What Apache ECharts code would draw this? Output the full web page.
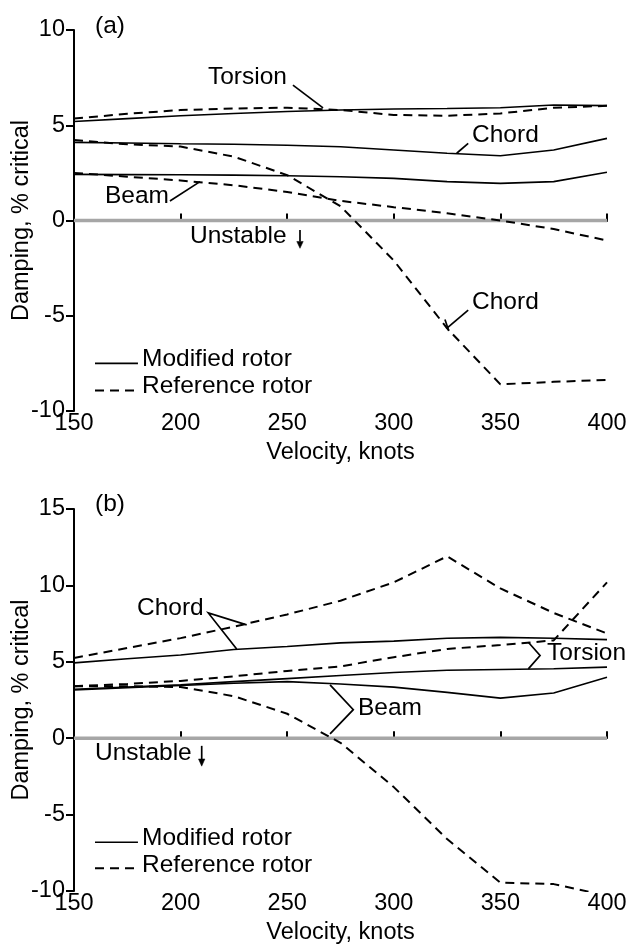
<!DOCTYPE html>
<html>
<head>
<meta charset="utf-8">
<script src="https://cdn.jsdelivr.net/npm/echarts@6/dist/echarts.min.js"></script>
<style>
html,body{margin:0;padding:0;background:#fff;}
#chart{width:630px;height:945px;}
</style>
</head>
<body>
<div id="chart"></div>
<script>
// ---- data ----
const knots = [150, 175, 200, 225, 250, 275, 300, 325, 350, 375, 400];
const xTicks = [150, 200, 250, 300, 350, 400];

// (a)
const aTorsionMod = [5.2, 5.35, 5.5, 5.62, 5.72, 5.8, 5.85, 5.88, 5.92, 6.06, 6.03];
const aTorsionRef = [5.35, 5.6, 5.8, 5.88, 5.92, 5.8, 5.54, 5.5, 5.62, 5.92, 6.02];
const aChordMod = [4.1, 4.07, 4.03, 4.0, 3.95, 3.87, 3.7, 3.53, 3.4, 3.7, 4.31];
const aChordRef = [4.22, 4.0, 3.88, 3.35, 2.38, 0.75, -2.1, -5.66, -8.6, -8.47, -8.37];
const aBeamMod = [2.42, 2.41, 2.4, 2.38, 2.35, 2.3, 2.21, 2.04, 1.95, 2.04, 2.53];
const aBeamRef = [2.5, 2.3, 2.1, 1.85, 1.5, 1.03, 0.7, 0.38, 0.0, -0.45, -1.05];

// (b)
const bChordMod = [4.93, 5.2, 5.45, 5.8, 6.0, 6.24, 6.35, 6.54, 6.6, 6.54, 6.45];
const bChordRef = [5.25, 5.9, 6.55, 7.3, 8.1, 9.0, 10.2, 11.9, 9.8, 8.2, 6.85];
const bTorsionMod = [3.2, 3.35, 3.5, 3.7, 3.9, 4.1, 4.3, 4.45, 4.5, 4.55, 4.65];
const bTorsionRef = [3.4, 3.55, 3.75, 4.05, 4.4, 4.7, 5.3, 5.84, 6.1, 6.4, 10.2];
const bBeamMod = [3.15, 3.3, 3.45, 3.6, 3.7, 3.55, 3.34, 3.0, 2.62, 2.96, 3.99];
const bBeamRef = [3.4, 3.4, 3.35, 2.75, 1.6, -0.3, -3.2, -6.6, -9.45, -9.55, -10.3];

const zeroLevel = 0;
const yRangeA = [-10, 10];
const yRangeB = [-10, 15];
const legendLabels = ['Modified rotor', 'Reference rotor'];

// ---- styling ----
const FONT = '"Liberation Sans", Arial, Helvetica, sans-serif';
const FS = 23.5;   // axis text
const FA = 24.5;   // annotation text
const DASH = [9, 6];

const chart = echarts.init(document.getElementById('chart'), null, {renderer: 'canvas'});

function xAxisCfg(gi) {
  return {
    gridIndex: gi, type: 'value', min: xTicks[0], max: xTicks[xTicks.length - 1], interval: 50,
    name: 'Velocity, knots', nameLocation: 'middle', nameGap: 30,
    nameTextStyle: {fontSize: FS, fontFamily: FONT, color: '#000'},
    axisLine: {lineStyle: {color: '#000', width: 2}},
    axisTick: {inside: true, length: 7, lineStyle: {color: '#000', width: 2}},
    axisLabel: {margin: 1, fontSize: FS, fontFamily: FONT, color: '#000', hideOverlap: false},
    splitLine: {show: false}
  };
}
function yAxisCfg(gi, range) {
  return {
    gridIndex: gi, type: 'value', min: range[0], max: range[1], interval: 5,
    name: 'Damping, % critical', nameLocation: 'middle', nameGap: 40, nameRotate: 90,
    nameMoveOverlap: false,
    nameTextStyle: {fontSize: FS, fontFamily: FONT, color: '#000'},
    axisLine: {show: true, lineStyle: {color: '#000', width: 2}},
    axisTick: {show: true, inside: false, length: 8, lineStyle: {color: '#000', width: 2}},
    axisLabel: {margin: 9, fontSize: FS, fontFamily: FONT, color: '#000', hideOverlap: false},
    splitLine: {show: false}
  };
}
function mk(arr, gi, dashed) {
  return {
    type: 'line', xAxisIndex: gi, yAxisIndex: gi, symbol: 'none', z: 3, silent: true,
    data: knots.map((k, i) => [k, arr[i]]),
    lineStyle: {color: '#000', width: dashed ? 2 : 1.6, type: dashed ? DASH : 'solid'}
  };
}
function zero(gi) {
  return {
    type: 'line', xAxisIndex: gi, yAxisIndex: gi, symbol: 'none', z: 2, silent: true,
    data: [[knots[0], zeroLevel], [knots[knots.length - 1], zeroLevel]],
    lineStyle: {color: '#a6a6a6', width: 3.5}
  };
}

chart.setOption({
  animation: false,
  backgroundColor: '#fff',
  grid: [
    {left: 74, top: 30, width: 533, height: 381, containLabel: false, outerBoundsMode: 'none'},
    {left: 74, top: 509, width: 533, height: 382, containLabel: false, outerBoundsMode: 'none'}
  ],
  xAxis: [xAxisCfg(0), xAxisCfg(1)],
  yAxis: [yAxisCfg(0, yRangeA), yAxisCfg(1, yRangeB)],
  series: [
    zero(0), zero(1),
    mk(aTorsionMod, 0, false), mk(aTorsionRef, 0, true),
    mk(aChordMod, 0, false), mk(aChordRef, 0, true),
    mk(aBeamMod, 0, false), mk(aBeamRef, 0, true),
    mk(bChordMod, 1, false), mk(bChordRef, 1, true),
    mk(bTorsionMod, 1, false), mk(bTorsionRef, 1, true),
    mk(bBeamMod, 1, false), mk(bBeamRef, 1, true)
  ]
});

// ---- annotations (positions in data coordinates) ----
function P(gi, pt) { return chart.convertToPixel({gridIndex: gi}, pt); }
const g = [];
function txt(gi, pt, s) {
  const p = P(gi, pt);
  g.push({type: 'text', silent: true, z: 10, style: {
    text: s, x: p[0], y: p[1], font: FA + 'px ' + FONT, fill: '#000',
    align: 'left', verticalAlign: 'middle', textAlign: 'left', textVerticalAlign: 'middle'}});
}
function poly(gi, pts, dash) {
  g.push({type: 'polyline', silent: true, z: 10,
    shape: {points: pts.map(pt => P(gi, pt))},
    style: {stroke: '#000', lineWidth: dash ? 2 : 1.7, fill: null, lineDash: dash ? DASH : null}});
}
function arrow(gi, x, y0, y1, yHead, halfW) {
  poly(gi, [[x, y0], [x, yHead]]);
  g.push({type: 'polygon', silent: true, z: 10,
    shape: {points: [[x - halfW, yHead], [x + halfW, yHead], [x, y1]].map(pt => P(gi, pt))},
    style: {fill: '#000', stroke: '#000', lineWidth: 0.5}});
}

// (a)
txt(0, [159.85, 10.21], '(a)');
txt(0, [212.85, 7.51], 'Torsion');
poly(0, [[252.7, 7.11], [266.8, 5.91]]);
txt(0, [336.7, 4.49], 'Chord');
poly(0, [[334.9, 4.05], [329.5, 3.53]]);
txt(0, [164.5, 1.26], 'Beam');
poly(0, [[195.0, 1.02], [209.1, 2.04]]);
txt(0, [204.4, -0.81], 'Unstable');
arrow(0, 256.0, -0.5, -1.46, -1.1, 1.5);
txt(0, [336.7, -4.3], 'Chord');
poly(0, [[334.9, -4.7], [324.8, -5.66]]);
poly(0, [[324.0, -5.2], [325.8, -5.8]]);
poly(0, [[159.85, -7.5], [180.0, -7.5]]);
txt(0, [181.9, -7.27], legendLabels[0]);
poly(0, [[159.85, -8.93], [180.0, -8.93]], true);
txt(0, [181.9, -8.69], legendLabels[1]);

// (b)
txt(1, [159.85, 15.33], '(b)');
txt(1, [179.55, 8.53], 'Chord');
poly(1, [[231.0, 7.42], [213.0, 8.2], [226.3, 5.84]]);
txt(1, [371.9, 5.58], 'Torsion');
poly(1, [[363.1, 6.28], [368.6, 5.41], [363.1, 4.54]]);
txt(1, [283.2, 1.98], 'Beam');
poly(1, [[270.1, 3.49], [281.0, 1.87], [270.1, 0.28]]);
txt(1, [159.85, -0.96], 'Unstable');
arrow(1, 209.9, -0.5, -1.83, -1.36, 1.5);
poly(1, [[159.85, -6.81], [180.0, -6.81]]);
txt(1, [181.9, -6.54], legendLabels[0]);
poly(1, [[159.85, -8.51], [180.0, -8.51]], true);
txt(1, [181.9, -8.29], legendLabels[1]);

chart.setOption({graphic: g});
</script>
</body>
</html>
